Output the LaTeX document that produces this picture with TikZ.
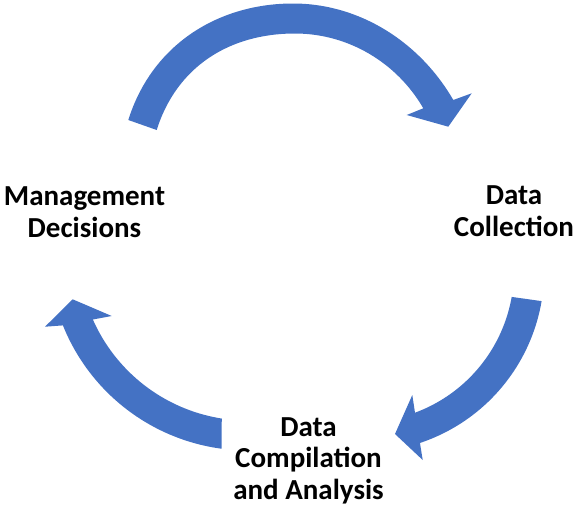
\documentclass[tikz,border=0pt]{standalone}
\usepackage{fontspec}
\newfontfamily\labelfont{Carlito}
\definecolor{arrowblue}{HTML}{4472C4}
\begin{document}
\begin{tikzpicture}[x=1pt,y=-1pt,
  cyclearrow/.style={fill=arrowblue, draw=none},
  steplabel/.style={font=\labelfont\bfseries\fontsize{29}{31.5}\selectfont, align=center, inner sep=0pt, text=black}]
\useasboundingbox (0,0) rectangle (574,509);
% top arrow: Management Decisions -> Data Collection
\fill[cyclearrow] (128.3,120) .. controls (152.3,43.7) and (219,3.5) .. (293,3.5)
  .. controls (359.8,3.5) and (419.9,42.2) .. (453.3,100)
  -- (471.7,93.3) -- (448.3,126.7) -- (406.7,115) -- (423.3,108.3)
  .. controls (396.8,62.4) and (348,33.5) .. (295,33.5)
  .. controls (229,33.5) and (176.5,67) .. (156.7,130) -- cycle;
% right arrow: Data Collection -> Data Compilation and Analysis
\fill[cyclearrow] plot[domain=9.67:71.56, samples=40] ({362.5+181.7*cos(\x)},{270.6+181.7*sin(\x)})
  -- (422.7,460) -- (395,434) -- (412.3,395) -- (415,412.7)
  -- plot[domain=69.76:10, samples=40] ({362.5+151.5*cos(\x)},{270.6+151.5*sin(\x)}) -- cycle;
% left arrow: Data Compilation and Analysis -> Management Decisions
\fill[cyclearrow] plot[domain=97.6:158.1, samples=40] ({248+199.5*cos(\x)},{251+199.5*sin(\x)})
  -- (45,326.7) -- (72.7,299.3) -- (111.7,316) -- (94,319.3)
  -- plot[domain=156.2:98.9, samples=40] ({248+169.6*cos(\x)},{251+169.6*sin(\x)}) -- cycle;
% labels
\node[steplabel, anchor=base] (mgmt) at (84.5,237) {Management\\Decisions};
\node[steplabel, anchor=base] (coll) at (514,236) {Data\\Collection};
\node[steplabel, anchor=base] (comp) at (308.5,499) {Data\\Compilation\\and Analysis};
\end{tikzpicture}
\end{document}
